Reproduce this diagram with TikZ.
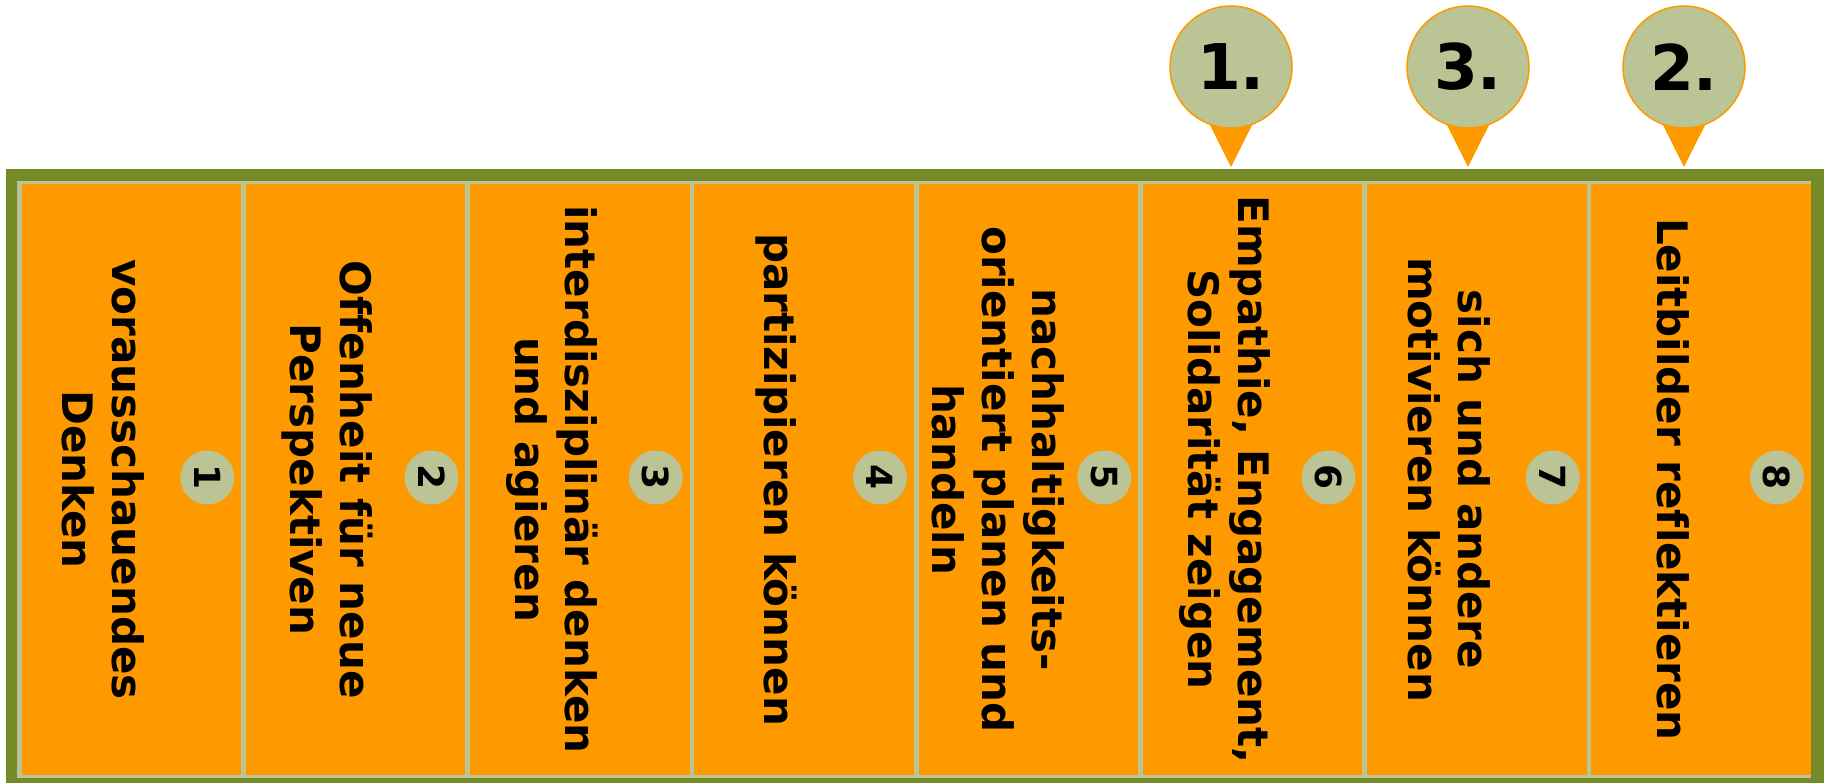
\documentclass[tikz,border=0pt]{standalone}
\usepackage{fontspec}
\setmainfont{DejaVu Sans}[Ligatures=NoCommon]
\pgfdeclarelayer{bg}
\pgfsetlayers{bg,main}
\definecolor{kompOrange}{HTML}{FF9900}
\definecolor{kompSage}{HTML}{BAC494}
\definecolor{kompOlive}{HTML}{758A28}
\tikzset{
        feld/.style={rectangle, fill=kompOrange, inner sep=0pt, minimum width=219.75pt, minimum height=591pt},
        nummer/.style={circle, fill=kompSage, inner sep=0pt, minimum size=54pt, rotate=-90, font=\fontsize{36}{36}\selectfont\bfseries},
        kompetenz/.style={rotate=-90, align=center, inner sep=0pt, font=\fontsize{42}{50}\selectfont\bfseries},
        rang/.style={circle, fill=kompSage, draw=kompOrange, line width=1.5pt, inner sep=0pt, minimum size=122pt, font=\fontsize{63}{63}\selectfont\bfseries},
}
\begin{document}
\begin{tikzpicture}[x=1pt, y=-1pt]
        \useasboundingbox (0,0) rectangle (1826,783);
        \node (c1) [feld] at (131.4, 479.5) {};
        \node (c2) [feld] at (355.6, 479.5) {};
        \node (c3) [feld] at (579.9, 479.5) {};
        \node (c4) [feld] at (804.1, 479.5) {};
        \node (c5) [feld] at (1028.4, 479.5) {};
        \node (c6) [feld] at (1252.6, 479.5) {};
        \node (c7) [feld] at (1476.9, 479.5) {};
        \node (c8) [feld] at (1701.1, 479.5) {};
        \node (n1) [nummer] at (207.3, 477.5) {1};
        \node (n2) [nummer] at (431.5, 477.5) {2};
        \node (n3) [nummer] at (655.8, 477.5) {3};
        \node (n4) [nummer] at (880.0, 477.5) {4};
        \node (n5) [nummer] at (1104.3, 477.5) {5};
        \node (n6) [nummer] at (1328.5, 477.5) {6};
        \node (n7) [nummer] at (1552.8, 477.5) {7};
        \node (n8) [nummer] at (1777.0, 477.5) {8};
        \node (k1) [kompetenz] at (103.4, 479.5) {vorausschauendes\\Denken};
        \node (k2) [kompetenz] at (327.6, 479.5) {Offenheit für neue\\Perspektiven};
        \node (k3) [kompetenz] at (551.9, 479.5) {interdisziplinär denken\\und agieren};
        \node (k4) [kompetenz] at (776.1, 479.5) {partizipieren können};
        \node (k5) [kompetenz] at (998.0, 479.5) {nachhaltigkeits-\\orientiert planen und\\handeln};
        \node (k6) [kompetenz] at (1224.6, 479.5) {Empathie, Engagement,\\Solidarität zeigen};
        \node (k7) [kompetenz] at (1448.9, 479.5) {sich und andere\\motivieren können};
        \node (k8) [kompetenz] at (1673.1, 479.5) {Leitbilder reflektieren};
        \node (m1) [rang] at (1231, 67) {1.};
        \node (m3) [rang] at (1468, 67) {3.};
        \node (m2) [rang] at (1684, 67) {2.};
        \coordinate (t1) at (1231, 167);
        \coordinate (t3) at (1468, 167);
        \coordinate (t2) at (1684, 167);
        \begin{pgfonlayer}{bg}
                \fill [kompOlive] (6, 169) rectangle (1824, 783);
                \fill [kompSage] (17, 181) rectangle (1811, 778);
                \fill [kompOrange] (m1.250) -- (t1) -- (m1.290) -- cycle;
                \fill [kompOrange] (m3.250) -- (t3) -- (m3.290) -- cycle;
                \fill [kompOrange] (m2.250) -- (t2) -- (m2.290) -- cycle;
        \end{pgfonlayer}
\end{tikzpicture}
\end{document}
